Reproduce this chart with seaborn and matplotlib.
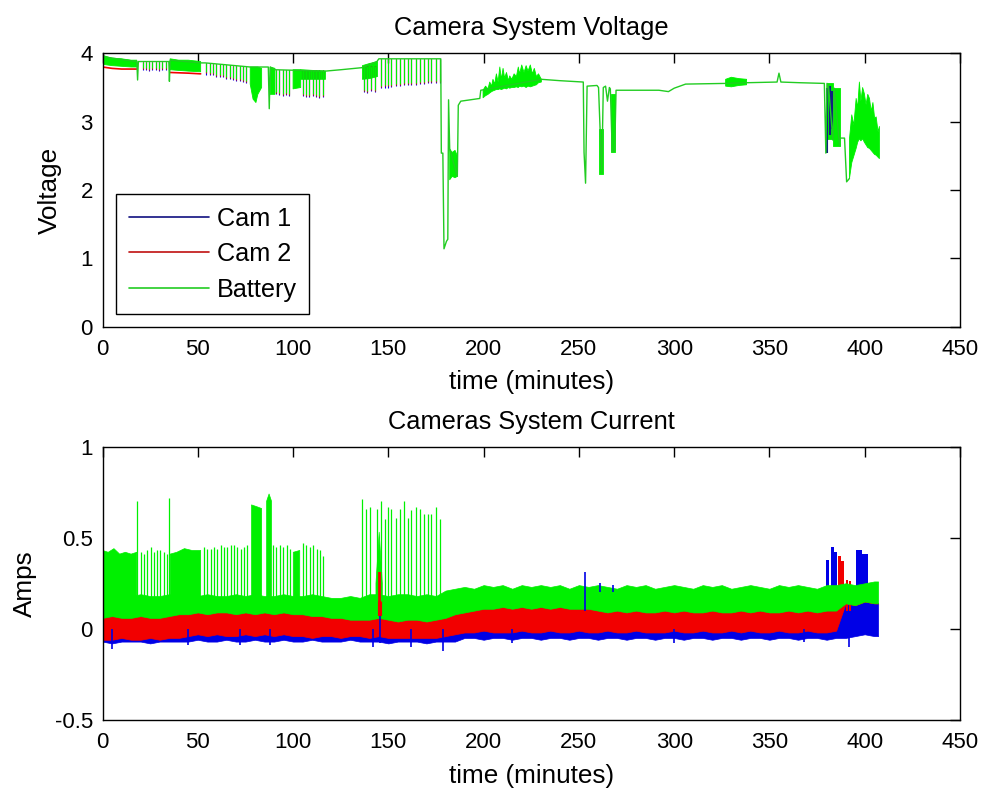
import numpy as np
import matplotlib
matplotlib.use("Agg")
import matplotlib.pyplot as plt
from matplotlib.lines import Line2D
import seaborn as sns

nan = np.nan

# ---------------- voltage (top) ----------------
# battery voltage main trace
v_t = [0, 18, 18.4, 18.8, 34.8, 35.1, 35.5, 51.5, 54, 77.5,
       84, 87, 87.5, 88, 90.5, 117, 125, 136, 144, 145,
       177.5, 177.8, 178.6, 179.2, 180.5, 181.2, 181.6, 182.2, 186.2, 186.7,
       188, 198, 198.5, 230.3, 240, 252.3, 252.7, 253.5, 254.3, 259.5,
       260.3, 262.0, 262.8, 264, 265, 266, 266.5, 267.5, 268.8, 269.5,
       292, 297, 300, 306, 327, 338, 354, 355, 356, 366,
       378.8, 379.6, 380.2, 381, 383.3, 384, 386.8, 387, 389.4, 390.5,
       392]
v_batt = [3.95, 3.88, 3.61, 3.88, 3.88, 3.59, 3.90, 3.86, 3.86, 3.80,
          3.80, 3.80, 3.19, 3.80, 3.76, 3.74, 3.76, 3.79, 3.88, 3.92,
          3.92, 2.54, 2.54, 1.14, 1.25, 1.28, 3.32, 2.60, 2.20, 3.24,
          3.30, 3.34, 3.46, 3.62, 3.60, 3.58, 2.55, 2.10, 3.52, 3.53,
          3.50, 2.24, 3.50, 3.52, 3.30, 3.50, 3.48, 2.56, 2.58, 3.46,
          3.46, 3.44, 3.49, 3.55, 3.56, 3.57, 3.58, 3.71, 3.58, 3.57,
          3.56, 2.54, 3.56, 3.52, 2.73, 3.49, 2.65, 2.76, 2.76, 2.12,
          2.17]

# dense (noisy) stretches of the battery voltage, NaN separates the stretches
vb_t = [0, 5, 10, 15, 18, nan,
        35.5, 40, 45, 51.5, nan,
        77.5, 79, 80.5, 81.5, 83.5, nan,
        88, 90.5, nan,
        100, 104, nan,
        104, 117, nan,
        136.4, 140, 144.3, nan,
        182.2, 183.5, 185, 186.2, nan,
        199.7, 201, 202.3, 203.2, 204.2, 204.9, 205.8, 206.7, 207.6, 208.5,
        209.3, 210.2, 211, 212, 213, 213.7, 214.8, 216, 217.2, 218.2,
        218.9, 220, 221.2, 222.3, 223.3, 224.5, 225.6, 226.6, 227.7, 228.8,
        230.3, nan,
        260.5, 262.5, nan,
        267, 269, nan,
        327, 330, 334, 338, nan,
        380, 383.3, nan,
        383.3, 386.8, nan,
        392, 393.2, 394.3, 395.5, 396.3, 397.2, 398.0, 398.9, 399.8, 400.7,
        401.6, 402.5, 403.4, 404.3, 405.2, 406, 407, 407.7]
vb_hi = [3.97, 3.93, 3.92, 3.90, 3.90, nan,
         3.92, 3.90, 3.90, 3.88, nan,
         3.80, 3.80, 3.80, 3.80, 3.78, nan,
         3.80, 3.78, nan,
         3.76, 3.76, nan,
         3.76, 3.74, nan,
         3.82, 3.85, 3.88, nan,
         2.60, 2.55, 2.58, 2.50, nan,
         3.46, 3.52, 3.48, 3.58, 3.52, 3.62, 3.55, 3.70, 3.58, 3.80,
         3.62, 3.78, 3.64, 3.72, 3.60, 3.67, 3.62, 3.70, 3.66, 3.80,
         3.70, 3.83, 3.72, 3.82, 3.74, 3.83, 3.70, 3.78, 3.66, 3.70,
         3.62, nan,
         2.90, 2.90, nan,
         3.40, 3.40, nan,
         3.62, 3.65, 3.63, 3.62, nan,
         3.56, 3.56, nan,
         3.49, 3.49, nan,
         2.75, 3.10, 2.95, 3.34, 3.20, 3.58, 3.30, 3.50, 3.41, 3.25,
         3.40, 3.34, 3.15, 3.28, 3.05, 3.07, 2.85, 2.93]
vb_lo = [3.84, 3.82, 3.81, 3.80, 3.80, nan,
         3.76, 3.75, 3.74, 3.73, nan,
         3.55, 3.33, 3.28, 3.40, 3.50, nan,
         3.40, 3.40, nan,
         3.48, 3.50, nan,
         3.62, 3.62, nan,
         3.62, 3.63, 3.66, nan,
         2.15, 2.20, 2.18, 2.20, nan,
         3.35, 3.38, 3.40, 3.42, 3.44, 3.45, 3.46, 3.47, 3.47, 3.48,
         3.47, 3.48, 3.49, 3.48, 3.50, 3.49, 3.50, 3.50, 3.51, 3.50,
         3.52, 3.51, 3.52, 3.50, 3.52, 3.51, 3.52, 3.53, 3.54, 3.57,
         3.58, nan,
         2.24, 2.24, nan,
         2.56, 2.56, nan,
         3.52, 3.51, 3.53, 3.54, nan,
         2.75, 2.75, nan,
         2.65, 2.65, nan,
         2.17, 2.40, 2.50, 2.61, 2.70, 2.75, 2.72, 2.75, 2.70, 2.66,
         2.62, 2.61, 2.58, 2.55, 2.52, 2.51, 2.48, 2.46]

# comb teeth of the voltage trace
vt_t = [21.0, 22.7, 24.4, 26.2, 27.9, 29.6, 31.4, 33.1,
        54.5, 56.3, 58.0, 59.8, 61.5, 63.3, 65.0, 66.8, 68.5, 70.3, 72.0, 73.8, 75.5,
        91.0, 92.7, 94.5, 96.2, 98.0, 105.0, 106.8, 108.5, 110.3, 112.0, 113.8, 115.5,
        137.0, 139.0, 141.0, 143.0,
        145.9, 148.1, 149.9, 151.6, 153.9, 156.0, 158.1, 160.4, 162.1, 164.4, 166.5,
        168.6, 170.9, 172.6, 174.9, 177.0]
vt_top = [3.88, 3.88, 3.88, 3.88, 3.88, 3.88, 3.88, 3.88,
          3.86, 3.86, 3.85, 3.85, 3.84, 3.84, 3.83, 3.83, 3.82, 3.82, 3.81, 3.81, 3.80,
          3.76, 3.76, 3.76, 3.76, 3.76, 3.76, 3.76, 3.76, 3.76, 3.76, 3.76, 3.76,
          3.82, 3.82, 3.82, 3.82,
          3.92, 3.92, 3.92, 3.92, 3.92, 3.92, 3.92, 3.92, 3.92, 3.92, 3.92,
          3.92, 3.92, 3.92, 3.92, 3.92]
vt_bot = [3.78, 3.78, 3.77, 3.78, 3.78, 3.77, 3.78, 3.78,
          3.72, 3.71, 3.71, 3.69, 3.68, 3.68, 3.66, 3.65, 3.64, 3.63, 3.62, 3.61, 3.60,
          3.43, 3.42, 3.41, 3.42, 3.40, 3.40, 3.39, 3.39, 3.40, 3.39, 3.38, 3.39,
          3.47, 3.45, 3.48, 3.46,
          3.52, 3.53, 3.53, 3.54, 3.55, 3.55, 3.56, 3.56, 3.57, 3.57, 3.58,
          3.58, 3.59, 3.59, 3.60, 3.60]

# camera voltages, visible only under the battery trace
cam2_v_t = [0, 5, 10, 18, nan, 35.5, 45, 51.5]
cam2_v = [3.80, 3.78, 3.77, 3.77, nan, 3.72, 3.71, 3.70]
cam1_v_t = [380.2, 381.8, 383.0]
cam1_v_top = [3.50, 3.52, 3.45]
cam1_v_bot = [2.54, 2.80, 2.90]

# ---------------- current (bottom) ----------------
t_band = [0, 5, 10, 15, 20, 25, 30, 35, 40, 45, 50, 55, 60, 65, 70, 75, 80, 85, 90, 95,
          100, 105, 110, 115, 120, 125, 130, 135, 140, 145, 150, 155, 160, 165, 170, 175,
          180, 185, 190, 195, 200, 205, 210, 215, 220, 225, 230, 235, 240, 245, 250, 255,
          260, 265, 270, 275, 280, 285, 290, 295, 300, 305, 310, 315, 320, 325, 330, 335,
          340, 345, 350, 355, 360, 365, 370, 375, 380, 385, 390, 395, 400, 405, 407]
# top of the battery current band (without teeth)
g_hi = [0.18, 0.19, 0.18, 0.18, 0.19, 0.18, 0.18, 0.19, 0.18, 0.19, 0.18, 0.19, 0.18, 0.18,
        0.19, 0.18, 0.19, 0.18, 0.18, 0.19, 0.18, 0.18, 0.19, 0.18,
        0.17, 0.17, 0.18, 0.17, 0.19, 0.19, 0.18, 0.19, 0.19, 0.18, 0.19, 0.18,
        0.21, 0.22, 0.23, 0.22, 0.24, 0.23, 0.24, 0.22, 0.24, 0.23, 0.24, 0.23, 0.24, 0.22,
        0.24, 0.23, 0.24, 0.23, 0.22, 0.24, 0.23, 0.24, 0.22, 0.23, 0.24, 0.23, 0.22, 0.24,
        0.23, 0.24, 0.22, 0.23, 0.24, 0.23, 0.22, 0.24, 0.23, 0.24, 0.23, 0.22, 0.24, 0.24,
        0.25, 0.24, 0.25, 0.26, 0.26]
# Cam 2 band (top of it is where the battery band starts)
r_hi = [0.06, 0.07, 0.06, 0.06, 0.07, 0.06, 0.06,
        0.07, 0.08, 0.08, 0.09, 0.08, 0.09, 0.09, 0.08, 0.09, 0.08, 0.09, 0.08, 0.09, 0.08,
        0.08, 0.07, 0.07,
        0.06, 0.06, 0.05, 0.05, 0.05, 0.06, 0.05, 0.04, 0.05, 0.05, 0.04, 0.05,
        0.06, 0.08, 0.09, 0.10, 0.11, 0.11, 0.12, 0.11, 0.12, 0.11, 0.12, 0.11, 0.12, 0.11,
        0.11, 0.11,
        0.10, 0.09, 0.10, 0.09, 0.10, 0.09, 0.09, 0.10, 0.09, 0.10, 0.09, 0.09, 0.10, 0.09,
        0.09, 0.10, 0.09, 0.10, 0.09, 0.09, 0.10, 0.09, 0.10, 0.09, 0.10, 0.10,
        0.14, 0.13, 0.15, 0.14, 0.14]
r_lo = [-0.06, -0.06, -0.05, -0.06, -0.06, -0.05, -0.06, -0.05, -0.05,
        -0.04, -0.03, -0.04, -0.03, -0.04, -0.04, -0.03, -0.04, -0.03, -0.04, -0.03, -0.04,
        -0.04, -0.05, -0.04, -0.04, -0.05, -0.04, -0.04, -0.05, -0.04, -0.05, -0.05, -0.05,
        -0.05, -0.05, -0.05,
        -0.04, -0.03, -0.02, -0.02, -0.01, -0.02, -0.02, -0.02, -0.01, -0.02, -0.02, -0.01,
        -0.02, -0.02, -0.01, -0.02, -0.02, -0.01, -0.02, -0.02, -0.01, -0.02, -0.02, -0.02,
        -0.01, -0.02, -0.02, -0.01, -0.02, -0.02, -0.01, -0.02, -0.01, -0.02, -0.02, -0.01,
        -0.02, -0.02, -0.01, -0.02, -0.02, -0.01,
        0.14, 0.13, 0.15, 0.14, 0.14]
# Cam 1 band bottom
b_lo = [-0.07, -0.08, -0.07, -0.07, -0.07, -0.08, -0.07, -0.07, -0.07, -0.07, -0.06, -0.07,
        -0.07, -0.06, -0.07, -0.07, -0.06, -0.07, -0.07, -0.06, -0.07, -0.07, -0.06, -0.07,
        -0.07, -0.07, -0.06, -0.07, -0.07, -0.07, -0.08, -0.07, -0.07, -0.07, -0.08, -0.07,
        -0.07, -0.07, -0.05, -0.05, -0.06, -0.05, -0.05, -0.06, -0.05, -0.05, -0.06, -0.05,
        -0.05, -0.06, -0.05, -0.05, -0.06, -0.05, -0.05, -0.06, -0.05, -0.05, -0.06, -0.05,
        -0.05, -0.06, -0.05, -0.05, -0.06, -0.05, -0.05, -0.06, -0.05, -0.05, -0.06, -0.05,
        -0.05, -0.06, -0.05, -0.05, -0.06, -0.05,
        -0.05, -0.04, -0.03, -0.04, -0.04]

# tall battery current stretches (NaN separated)
gb_t = [0, 3, 6, 9, 12, 15, 18, nan,
        35.5, 39, 43, 47, 51.5, nan,
        78.2, 81, 83.5, nan,
        86.1, 87.4, 88.7, nan,
        100.1, 103.5, nan,
        143.5, 145.2, 146.8]
gb_hi = [0.43, 0.42, 0.44, 0.41, 0.42, 0.41, 0.42, nan,
         0.41, 0.42, 0.44, 0.43, 0.43, nan,
         0.68, 0.67, 0.66, nan,
         0.70, 0.74, 0.70, nan,
         0.42, 0.43, nan,
         0.25, 0.53, 0.25]

# battery current teeth
ct_t = [18.3, 35.0,
        20.2, 21.9, 23.6, 25.3, 27.0, 28.7, 30.4, 32.1, 33.7,
        53.2, 55.0, 56.7, 58.5, 60.2, 62.0, 63.7, 65.5, 67.2, 69.0, 70.7, 72.5, 74.2, 75.9,
        89.6, 91.3, 93.1, 94.8, 96.6, 98.3, 105.3, 107.0, 108.8, 110.5, 112.3, 114.0, 115.8,
        136.4, 138.5, 140.6, 143.8, 145.9, 148.1, 149.9, 151.6, 153.9, 156.0, 158.1, 160.4,
        162.1, 164.4, 166.5, 168.6, 170.9, 172.6, 174.9, 177.0]
ct_top = [0.70, 0.72,
          0.42, 0.41, 0.43, 0.45, 0.42, 0.43, 0.43, 0.42, 0.41,
          0.45, 0.44, 0.44, 0.45, 0.44, 0.46, 0.45, 0.45, 0.46, 0.46, 0.45, 0.44, 0.45, 0.46,
          0.46, 0.45, 0.46, 0.45, 0.46, 0.44, 0.47, 0.46, 0.45, 0.46, 0.44, 0.43, 0.40,
          0.71, 0.66, 0.67, 0.66, 0.70, 0.60, 0.67, 0.66, 0.61, 0.66, 0.70, 0.61,
          0.65, 0.67, 0.66, 0.63, 0.63, 0.63, 0.67, 0.60]

# Cam 1 spikes
b_sp_t = [5, 45, 72, 88, 142, 145.5, 162, 178.5, 215, 253, 261, 268, 300, 368, 392]
b_sp_lo = [-0.11, -0.09, -0.09, -0.09, -0.10, -0.08, -0.10, -0.12, -0.08, 0.10, 0.20, 0.20,
           -0.08, -0.07, -0.10]
b_sp_hi = [0.0, 0.0, 0.0, 0.0, 0.0, 0.14, 0.0, 0.0, 0.0, 0.31, 0.25, 0.24, 0.0, 0.0, 0.0]
# Cam 2 spike
r_sp_t = [145.5]
r_sp_lo = [0.07]
r_sp_hi = [0.31]

# end-of-run blocks
b_blk_t0 = [379.8, 382.4, 384.1, 395.5, 398.5]
b_blk_t1 = [381.5, 384.1, 385.5, 398.5, 401.6]
b_blk_top = [0.38, 0.45, 0.42, 0.43, 0.41]
r_blk_t0 = [385.9, 387.5, 390.3, 391.8]
r_blk_t1 = [387.5, 389.3, 391.3, 392.8]
r_blk_top = [0.40, 0.37, 0.27, 0.26]

x_ticks = [0, 50, 100, 150, 200, 250, 300, 350, 400, 450]
v_ticks = [0, 1, 2, 3, 4]
a_ticks = [-0.5, 0, 0.5, 1]
a_tick_labels = ["-0.5", "0", "0.5", "1"]

BLUE = "#0000e6"
RED = "#f20000"
GREEN = "#00f000"

sns.set_theme(style="white")
plt.rcParams["font.family"] = ["Liberation Sans", "DejaVu Sans"]
plt.rcParams["text.color"] = "black"
plt.rcParams["axes.labelcolor"] = "black"
plt.rcParams["axes.titlecolor"] = "black"
plt.rcParams["xtick.color"] = "black"
plt.rcParams["ytick.color"] = "black"

fig = plt.figure(figsize=(9.83, 7.89), dpi=100)
ax1 = fig.add_axes([0.1043, 0.5859, 0.8723, 0.3465])
ax2 = fig.add_axes([0.1043, 0.0875, 0.8723, 0.3465])

# ---- top: voltage ----
ax1.vlines(vt_t, np.array(vt_bot) - 0.03, vt_top, color=BLUE, lw=0.8)
ax1.vlines(vt_t, np.array(vt_bot) - 0.015, vt_top, color=RED, lw=0.8)
ax1.vlines(cam1_v_t, cam1_v_bot, cam1_v_top, color="#102080", lw=1.5)
ax1.plot(cam2_v_t, cam2_v, color=RED, lw=1.2)
ax1.fill_between(vb_t, vb_lo, vb_hi, color=GREEN, lw=0.6)
ax1.vlines(vt_t, vt_bot, vt_top, color=GREEN, lw=0.8)
sns.lineplot(x=v_t, y=v_batt, ax=ax1, color="#22cc22", lw=1.0,
             estimator=None, sort=False)

ax1.set_xlim(0, 450)
ax1.set_ylim(0, 4)
ax1.set_yticks(v_ticks)
ax1.set_title("Camera System Voltage", fontsize=18.3, pad=13)
ax1.set_xlabel("time (minutes)", fontsize=18.8)
ax1.set_ylabel("Voltage", fontsize=18.8)

handles = [Line2D([], [], color="#101080", lw=1.2),
           Line2D([], [], color="#c01010", lw=1.2),
           Line2D([], [], color="#22cc22", lw=1.2)]
leg = ax1.legend(handles, ["Cam 1", "Cam 2", "Battery"], loc="lower left",
                 bbox_to_anchor=(0.0157, 0.046), borderaxespad=0, fontsize=18.2,
                 handlelength=3.16, handletextpad=0.33, labelspacing=0.45,
                 borderpad=0.5, fancybox=False, framealpha=1)
leg.get_frame().set_edgecolor("black")
leg.get_frame().set_linewidth(1.0)

# ---- bottom: current ----
ax2.fill_between(t_band, b_lo, r_hi, color=BLUE, lw=0.5)
ax2.vlines(b_sp_t, b_sp_lo, b_sp_hi, color=BLUE, lw=1.2)
ax2.bar(b_blk_t0, np.array(b_blk_top) - 0.1,
        width=np.array(b_blk_t1) - np.array(b_blk_t0),
        bottom=0.1, align="edge", color=BLUE, lw=0)
ax2.fill_between(t_band, r_lo, r_hi, color=RED, lw=0.5)
ax2.vlines(r_sp_t, r_sp_lo, r_sp_hi, color=RED, lw=3)
ax2.bar(r_blk_t0, np.array(r_blk_top) - 0.1,
        width=np.array(r_blk_t1) - np.array(r_blk_t0),
        bottom=0.1, align="edge", color=RED, lw=0)
ax2.fill_between(t_band, r_hi, g_hi, color=GREEN, lw=0.5)
ax2.fill_between(gb_t, 0.15, gb_hi, color=GREEN, lw=0.5)
ax2.vlines(ct_t, 0.15, ct_top, color=GREEN, lw=0.9)

ax2.set_xlim(0, 450)
ax2.set_ylim(-0.5, 1)
ax2.set_yticks(a_ticks)
ax2.set_yticklabels(a_tick_labels)
ax2.set_title("Cameras System Current", fontsize=18.3, pad=13)
ax2.set_xlabel("time (minutes)", fontsize=18.8)
ax2.set_ylabel("Amps", fontsize=18.8)

for ax in (ax1, ax2):
    ax.set_xticks(x_ticks)
    ax.tick_params(direction="in", length=7, width=1, top=True, right=True,
                   labelsize=16, colors="black")
    ax.tick_params(axis="x", pad=9)
    ax.tick_params(axis="y", pad=7)
    for s in ax.spines.values():
        s.set_visible(True)
        s.set_color("black")
        s.set_linewidth(1.0)
    ax.xaxis.set_label_coords(0.5, -0.16)
    ax.set_facecolor("white")

ax1.yaxis.set_label_coords(-0.047, 0.5)
ax2.yaxis.set_label_coords(-0.076, 0.5)

fig.savefig("out.png", dpi=100, facecolor="white")
